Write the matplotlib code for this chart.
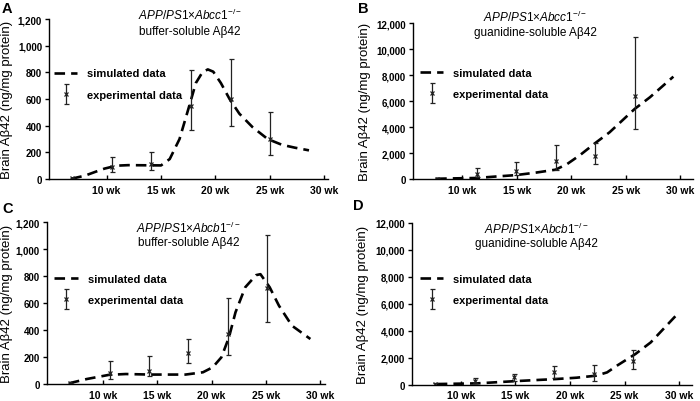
import matplotlib
matplotlib.use('Agg')
import matplotlib.pyplot as plt
from matplotlib.container import ErrorbarContainer
from matplotlib.legend_handler import HandlerErrorbar
from matplotlib.ticker import FuncFormatter

plt.rcParams['font.family'] = ['Liberation Sans', 'DejaVu Sans']
plt.rcParams['mathtext.fontset'] = 'custom'
plt.rcParams['mathtext.rm'] = 'Liberation Sans'
plt.rcParams['mathtext.it'] = 'Liberation Sans:italic'
plt.rcParams['mathtext.bf'] = 'Liberation Sans:bold'

# experimental sampling ages (weeks)
ages = [6.85, 10.5, 14.1, 17.75, 21.4, 25.0]
week_ticks = [10, 15, 20, 25, 30]
week_labels = ['10 wk', '15 wk', '20 wk', '25 wk', '30 wk']

# A: Abcc1-/- buffer-soluble
a_mean = [5, 90, 110, 551, 601, 302]
a_lo = [0, 52, 65, 369, 394, 177]
a_hi = [10, 165, 202, 818, 900, 506]
a_sim_t = [6.75, 8.0, 9.0, 9.8, 10.9, 12.0, 13.5, 15.0, 15.8, 16.7, 17.6, 18.2,
           18.8, 19.3, 19.8, 20.5, 21.3, 22.2, 23.4, 24.8, 26.1, 27.3, 28.6]
a_sim_v = [2, 25, 55, 78, 100, 104, 103, 102, 150, 300, 550, 720,
           800, 822, 805, 720, 600, 490, 390, 300, 257, 235, 215]

# B: Abcc1-/- guanidine-soluble
b_mean = [30, 400, 640, 1410, 1800, 6420]
b_lo = [0, 130, 300, 720, 1160, 3850]
b_hi = [60, 820, 1280, 2620, 2750, 10920]
b_sim_t = [6.8, 8.5, 10.5, 12.4, 14.1, 16.0, 17.75, 18.8, 20.0, 21.4, 22.7,
           25.0, 26.4, 28.55]
b_sim_v = [20, 50, 80, 200, 300, 500, 720, 1150, 1850, 2780, 3600,
           5400, 6300, 7890]

# C: Abcb1-/- buffer-soluble
c_mean = [5, 82, 99, 228, 371, 710]
c_lo = [0, 37, 62, 153, 215, 458]
c_hi = [10, 168, 205, 334, 639, 1106]
c_sim_t = [6.75, 8.4, 10.45, 12.0, 14.2, 17.5, 19.1, 20.0, 20.8, 21.5, 22.1,
           23.0, 24.0, 24.4, 25.25, 26.1, 27.3, 29.0]
c_sim_v = [5, 37, 68, 74, 70, 70, 87, 124, 198, 347, 532,
           718, 808, 815, 718, 582, 433, 334]

# D: Abcb1-/- guanidine-soluble
d_mean = [50, 300, 540, 915, 790, 1730]
d_lo = [0, 120, 250, 500, 300, 1160]
d_hi = [100, 500, 790, 1410, 1485, 2600]
d_sim_t = [7.0, 10.7, 12.8, 14.3, 16.2, 17.9, 19.8, 21.6, 22.6, 23.5, 25.2,
           26.6, 28.9]
d_sim_v = [50, 100, 200, 270, 350, 420, 520, 670, 915, 1410, 2280,
           3140, 5120]

panels = [
    dict(letter='A', gene='Abcc1', frac='buffer-soluble Aβ42', ymax=1200, ystep=200,
         mean=a_mean, lo=a_lo, hi=a_hi, st=a_sim_t, sv=a_sim_v,
         rect=[0.070, 0.5522, 0.3986, 0.398], tshift=0.0, tx=0.505, ty=(1.03, 0.925),
         leg=(0.018, 0.594), lab=-0.128, lpos=(0.003, 0.978)),
    dict(letter='B', gene='Abcc1', frac='guanidine-soluble Aβ42', ymax=12000, ystep=2000,
         mean=b_mean, lo=b_lo, hi=b_hi, st=b_sim_t, sv=b_sim_v,
         rect=[0.5904, 0.5522, 0.3996, 0.3873], tshift=-0.8, tx=0.435, ty=(1.045, 0.945),
         leg=(0.024, 0.612), lab=-0.152, lpos=(0.511, 0.978)),
    dict(letter='C', gene='Abcb1', frac='buffer-soluble Aβ42', ymax=1200, ystep=200,
         mean=c_mean, lo=c_lo, hi=c_hi, st=c_sim_t, sv=c_sim_v,
         rect=[0.0667, 0.0423, 0.3976, 0.4022], tshift=-0.1, tx=0.51, ty=(0.97, 0.88),
         leg=(0.027, 0.584), lab=-0.12, lpos=(0.003, 0.481)),
    dict(letter='D', gene='Abcb1', frac='guanidine-soluble Aβ42', ymax=12000, ystep=2000,
         mean=d_mean, lo=d_lo, hi=d_hi, st=d_sim_t, sv=d_sim_v,
         rect=[0.5881, 0.0405, 0.4, 0.4023], tshift=-0.8, tx=0.447, ty=(0.967, 0.876),
         leg=(0.03, 0.589), lab=-0.152, lpos=(0.504, 0.4876)),
]

fig = plt.figure(figsize=(7.0, 4.02), dpi=100)

for p in panels:
    ax = fig.add_axes(p['rect'])
    sim, = ax.plot(p['st'], p['sv'], color='black', lw=1.9, dashes=(4, 2.3),
                   dash_capstyle='butt')
    yerr = [[m - l for m, l in zip(p['mean'], p['lo'])],
            [h - m for m, h in zip(p['mean'], p['hi'])]]
    exp = ax.errorbar(ages, p['mean'], yerr=yerr, fmt='x', color='#222222',
                      ms=3.5, mew=0.9, elinewidth=0.9, capsize=1.8, capthick=0.9)

    ax.set_xlim(4.7, 30.35)
    ax.set_ylim(0, p['ymax'])
    for s in ['top', 'right']:
        ax.spines[s].set_visible(False)
    for s in ['left', 'bottom']:
        ax.spines[s].set_linewidth(1.0)

    ax.set_yticks(range(0, p['ymax'] + 1, p['ystep']))
    ax.yaxis.set_major_formatter(FuncFormatter(lambda v, pos: f'{int(v):,}'))
    ax.set_xticks([w + p['tshift'] for w in week_ticks])
    ax.set_xticklabels(week_labels)
    ax.tick_params(axis='y', direction='out', length=3, width=1, pad=2, labelsize=7)
    ax.tick_params(axis='x', direction='in', length=3, width=1, pad=4, labelsize=7.5)
    for t in ax.get_xticklabels() + ax.get_yticklabels():
        t.set_fontweight('bold')

    ax.set_ylabel('Brain Aβ42 (ng/mg protein)', fontsize=9.5)
    ax.yaxis.set_label_coords(p['lab'], 0.5)

    ax.text(p['tx'], p['ty'][0], r'$\mathit{APP/PS1}$×$\mathit{' + p['gene'] + r'}^{-/-}$',
            transform=ax.transAxes, ha='center', va='center', fontsize=8.5)
    ax.text(p['tx'], p['ty'][1], p['frac'], transform=ax.transAxes,
            ha='center', va='center', fontsize=8.5)

    ax.legend([sim, exp], ['simulated data', 'experimental data'],
              loc='center left', bbox_to_anchor=p['leg'], frameon=False,
              borderpad=0, borderaxespad=0, handlelength=2.1, handletextpad=0.9,
              labelspacing=1.0, prop={'size': 8, 'weight': 'bold'},
              handler_map={ErrorbarContainer: HandlerErrorbar(yerr_size=0.9)})

    fig.text(p['lpos'][0], p['lpos'][1], p['letter'], fontsize=10.5,
             fontweight='bold', ha='left', va='center')

fig.savefig('out.png', dpi=100)
